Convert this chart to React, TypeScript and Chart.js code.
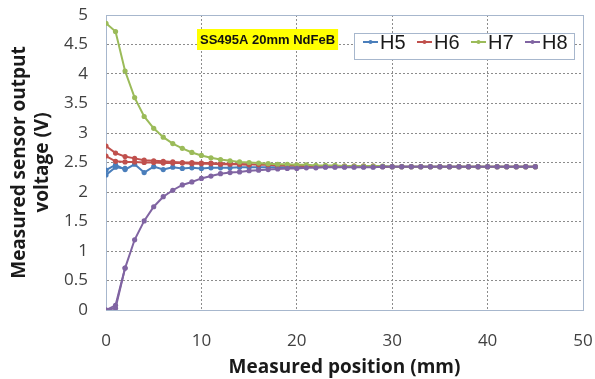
import React, { useEffect, useRef } from "react";
import { Chart, registerables } from "chart.js";
Chart.register(...registerables);

// Measured positions (mm)
const positions = [
  0, 1, 2, 3, 4, 5, 6, 7, 8, 9, 10, 11, 12, 13, 14, 15, 16, 17, 18, 19, 20, 21, 22,
  23, 24, 25, 26, 27, 28, 29, 30, 31, 32, 33, 34, 35, 36, 37, 38, 39, 40, 41, 42, 43, 44, 45,
];

// Sensor output voltages (V)
const h5 = [
  2.37, 2.46, 2.38, 2.47, 2.33, 2.43, 2.38, 2.42, 2.4, 2.41, 2.4, 2.41, 2.41, 2.41, 2.42, 2.42,
  2.42, 2.42, 2.42, 2.42, 2.42, 2.43, 2.43, 2.43, 2.43, 2.43, 2.43, 2.43, 2.43, 2.43, 2.43, 2.43,
  2.43, 2.43, 2.43, 2.43, 2.43, 2.43, 2.43, 2.43, 2.43, 2.43, 2.43, 2.43, 2.43, 2.43,
];
const h5Second = [2.29, 2.42, 2.4];
const h6 = [
  2.78, 2.66, 2.6, 2.57, 2.54, 2.53, 2.52, 2.51, 2.5, 2.5, 2.49, 2.49, 2.48, 2.48, 2.47, 2.47,
  2.46, 2.46, 2.45, 2.45, 2.45, 2.44, 2.44, 2.44, 2.44, 2.44, 2.44, 2.44, 2.44, 2.43, 2.43, 2.43,
  2.43, 2.43, 2.43, 2.43, 2.43, 2.43, 2.43, 2.43, 2.43, 2.43, 2.43, 2.43, 2.43, 2.43,
];
const h6Second = [2.61, 2.52, 2.51, 2.51, 2.5, 2.5, 2.49, 2.49, 2.49, 2.48, 2.48, 2.48, 2.47, 2.47, 2.47, 2.46];
const h7 = [
  4.86, 4.72, 4.05, 3.6, 3.28, 3.08, 2.93, 2.82, 2.74, 2.67, 2.62, 2.58, 2.55, 2.53, 2.51, 2.5,
  2.49, 2.48, 2.47, 2.47, 2.46, 2.46, 2.45, 2.45, 2.45, 2.44, 2.44, 2.44, 2.44, 2.44, 2.43, 2.43,
  2.43, 2.43, 2.43, 2.43, 2.43, 2.43, 2.43, 2.43, 2.43, 2.43, 2.43, 2.43, 2.43, 2.43,
];
const h8 = [
  0.0, 0.08, 0.71, 1.19, 1.51, 1.75, 1.92, 2.03, 2.12, 2.17, 2.23, 2.27, 2.31, 2.33, 2.34, 2.36,
  2.37, 2.38, 2.39, 2.4, 2.4, 2.41, 2.41, 2.42, 2.42, 2.42, 2.42, 2.42, 2.42, 2.43, 2.43, 2.43,
  2.43, 2.43, 2.43, 2.43, 2.43, 2.43, 2.43, 2.43, 2.43, 2.43, 2.43, 2.43, 2.43, 2.43,
];
const h8Second = [0.0, 0.03, 0.71];

const seriesNames = ["H5", "H6", "H7", "H8"];
const seriesColors = ["#4A7EBB", "#C0504D", "#9BBB59", "#8064A2"];
const annotationText = "SS495A 20mm NdFeB";
const xTitle = "Measured position (mm)";
const yTitle = ["Measured sensor output", "voltage (V)"];

const toPoints = (vals: number[]) => vals.map((v, i) => ({ x: positions[i], y: v }));

const mkDataset = (label: string, vals: number[], color: string, order: number) => ({
  label,
  data: toPoints(vals),
  borderColor: color,
  backgroundColor: color,
  pointBackgroundColor: color,
  pointBorderWidth: 0,
  pointRadius: 2.6,
  borderWidth: 2,
  tension: 0,
  order,
});

const frameColor = "#A7B7CD";

const overlayPlugin = {
  id: "overlay",
  beforeDatasetsDraw(chart: any) {
    const { ctx, chartArea: a } = chart;
    ctx.save();
    ctx.strokeStyle = frameColor;
    ctx.lineWidth = 1;
    ctx.setLineDash([]);
    ctx.strokeRect(Math.round(a.left) + 0.5, Math.round(a.top) + 0.5, Math.round(a.right - a.left), Math.round(a.bottom - a.top));
    ctx.restore();
  },
  afterDraw(chart: any) {
    const { ctx } = chart;
    ctx.save();
    // annotation box
    ctx.font = "bold 13px 'Liberation Sans', Arial, sans-serif";
    const tw = ctx.measureText(annotationText).width;
    ctx.fillStyle = "#FFFF00";
    ctx.fillRect(197, 29, tw + 6, 21);
    ctx.fillStyle = "#111111";
    ctx.textBaseline = "middle";
    ctx.textAlign = "left";
    ctx.fillText(annotationText, 200, 40);

    // legend
    const lx = 354, ly = 33, lw = 220, lh = 26;
    ctx.fillStyle = "#FFFFFF";
    ctx.fillRect(lx, ly, lw, lh);
    ctx.strokeStyle = frameColor;
    ctx.lineWidth = 1;
    ctx.strokeRect(lx + 0.5, ly + 0.5, lw, lh);
    const starts = [363, 417, 471, 525];
    ctx.font = "20px 'Liberation Sans', Arial, sans-serif";
    seriesNames.forEach((name, i) => {
      const sx = starts[i];
      const cy = 42;
      ctx.strokeStyle = seriesColors[i];
      ctx.lineWidth = 2;
      ctx.beginPath();
      ctx.moveTo(sx, cy);
      ctx.lineTo(sx + 15, cy);
      ctx.stroke();
      ctx.fillStyle = seriesColors[i];
      ctx.beginPath();
      ctx.arc(sx + 7.5, cy, 2, 0, Math.PI * 2);
      ctx.fill();
      ctx.fillStyle = "#1A1A1A";
      ctx.textBaseline = "middle";
      ctx.fillText(name, sx + 17, cy + 1);
    });
    ctx.restore();
  },
};

export default function App() {
  const ref = useRef<HTMLCanvasElement>(null);
  useEffect(() => {
    document.body.style.margin = "0";
    const tickFont = { family: "'Open Sans', sans-serif", size: 17 };
    const titleFont = { family: "'Open Sans', sans-serif", size: 19, weight: "bold" as const };
    const chart = new Chart(ref.current!, {
      type: "line",
      data: {
        datasets: [
          mkDataset(seriesNames[0], h5, seriesColors[0], 8),
          mkDataset(seriesNames[0] + "b", h5Second, seriesColors[0], 7),
          mkDataset(seriesNames[1], h6, seriesColors[1], 6),
          mkDataset(seriesNames[1] + "b", h6Second, seriesColors[1], 5),
          mkDataset(seriesNames[2], h7, seriesColors[2], 4),
          mkDataset(seriesNames[3], h8, seriesColors[3], 2),
          mkDataset(seriesNames[3] + "b", h8Second, seriesColors[3], 1),
        ] as any,
      },
      options: {
        animation: false,
        responsive: false,
        layout: { padding: { top: 15, right: 12, left: 0, bottom: 0 } },
        plugins: { legend: { display: false }, tooltip: { enabled: false } },
        scales: {
          x: {
            type: "linear",
            min: 0,
            max: 50,
            afterFit: (s: any) => {
              s.height = 69;
              s.paddingLeft = 0;
              s.paddingRight = 0;
            },
            ticks: { stepSize: 10, color: "#404040", font: tickFont, padding: 21, maxRotation: 0 },
            grid: { color: "#8C8C8C", drawTicks: false, lineWidth: 1, borderDash: [2, 2] } as any,
            border: { display: true, color: frameColor, dash: [2, 2] },
            title: { display: true, text: xTitle, color: "#1A1A1A", font: titleFont, padding: { top: 0, bottom: 0 } },
          },
          y: {
            min: 0,
            max: 5,
            afterFit: (s: any) => {
              s.width = 106;
              s.paddingTop = 0;
              s.paddingBottom = 0;
            },
            ticks: {
              stepSize: 0.5,
              color: "#404040",
              font: tickFont,
              padding: 18,
              callback: (v: any) => String(Number(v)),
            },
            grid: { color: "#8C8C8C", drawTicks: false, lineWidth: 1, borderDash: [2, 2] } as any,
            border: { display: true, color: frameColor, dash: [2, 2] },
            title: { display: true, text: yTitle, color: "#1A1A1A", font: titleFont, padding: { top: 8, bottom: 0 } },
          },
        },
      },
      plugins: [overlayPlugin],
    });
    return () => chart.destroy();
  }, []);
  return (
    <div style={{ width: 595, height: 379 }}>
      <canvas ref={ref} width={595} height={379} style={{ display: "block" }} />
    </div>
  );
}
